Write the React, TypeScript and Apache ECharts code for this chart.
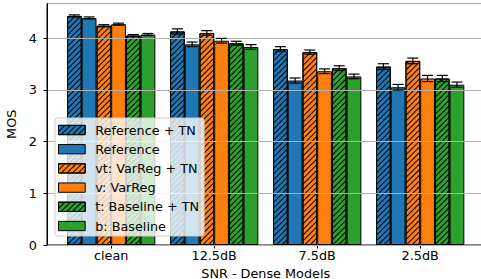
import React, { useEffect, useRef } from "react";
import * as echarts from "echarts";

const categories = ["clean", "12.5dB", "7.5dB", "2.5dB"];
const seriesNames = [
  "Reference + TN",
  "Reference",
  "vt: VarReg + TN",
  "v: VarReg",
  "t: Baseline + TN",
  "b: Baseline",
];
const refTN = [4.43, 4.13, 3.79, 3.45];
const ref = [4.39, 3.88, 3.18, 3.05];
const varRegTN = [4.24, 4.1, 3.73, 3.56];
const varReg = [4.27, 3.95, 3.36, 3.22];
const baseTN = [4.05, 3.9, 3.42, 3.22];
const base = [4.07, 3.83, 3.26, 3.1];
const refTNErr = [0.02, 0.05, 0.045, 0.055];
const refErr = [0.02, 0.045, 0.05, 0.055];
const varRegTNErr = [0.02, 0.045, 0.04, 0.055];
const varRegErr = [0.02, 0.045, 0.045, 0.06];
const baseTNErr = [0.02, 0.04, 0.045, 0.06];
const baseErr = [0.02, 0.045, 0.045, 0.05];
const yTicks = [0, 1, 2, 3, 4];

const values = [refTN, ref, varRegTN, varReg, baseTN, base];
const errors = [refTNErr, refErr, varRegTNErr, varRegErr, baseTNErr, baseErr];
const colors = ["#1f77b4", "#1f77b4", "#ff7f0e", "#ff7f0e", "#2ca02c", "#2ca02c"];
const hatched = [true, false, true, false, true, false];

const FONT = "DejaVu Sans";
const FS = 12.8;
const BAND = 103;
const BAR_W = BAND / 7;
const Y_MAX = 4.67;

export default function App() {
  const ref0 = useRef<HTMLDivElement>(null);
  useEffect(() => {
    if (!ref0.current) return;
    const chart = echarts.init(ref0.current, undefined, { renderer: "svg" });
    const decal = {
      symbol: "rect",
      symbolSize: 1,
      color: "#000",
      dashArrayX: [1, 0],
      dashArrayY: [1, 3],
      rotation: -Math.PI / 4,
    };
    const barSeries = seriesNames.map((name, i) => ({
      name,
      type: "bar",
      xAxisIndex: 1,
      yAxisIndex: 1,
      barWidth: BAR_W,
      barGap: "0%",
      z: 2,
      data: values[i],
      itemStyle: {
        color: colors[i],
        borderColor: "#000",
        borderWidth: 1,
        decal: hatched[i] ? decal : "none",
      },
      emphasis: { disabled: true },
    }));
    const errData: number[][] = [];
    values.forEach((arr, si) =>
      arr.forEach((v, ci) => errData.push([ci, v, errors[si][ci], si]))
    );
    const line = (x1: number, y1: number, x2: number, y2: number) => ({
      type: "line",
      shape: { x1, y1, x2, y2 },
      style: { stroke: "#000", lineWidth: 1.2 },
    });
    chart.setOption({
      animation: false,
      grid: [
        {
          left: 47,
          top: 3.5,
          width: 437,
          height: 241.5,
          show: true,
          borderColor: "#000",
          borderWidth: 1,
          backgroundColor: "transparent",
          outerBoundsMode: "none",
        },
        {
          left: 111.2 - BAND / 2,
          top: 3.5,
          width: BAND * 4,
          height: 241.5,
          outerBoundsMode: "none",
        },
      ],
      xAxis: [
        { type: "value", gridIndex: 0, min: 0, max: 1, show: false },
        {
          type: "category",
          gridIndex: 1,
          data: categories,
          axisLine: { show: false },
          axisTick: {
            show: true,
            alignWithLabel: true,
            length: 3.5,
            lineStyle: { color: "#000", width: 1 },
          },
          axisLabel: { fontFamily: FONT, fontSize: FS, color: "#000", margin: 4 },
          name: "SNR - Dense Models",
          nameLocation: "middle",
          nameGap: 19,
          nameTextStyle: { fontFamily: FONT, fontSize: FS, color: "#000", lineHeight: 12 },
          splitLine: { show: false },
        },
      ],
      yAxis: [
        {
          type: "value",
          gridIndex: 0,
          min: 0,
          max: Y_MAX,
          interval: 1,
          z: 3,
          axisLine: { show: true, lineStyle: { color: "#000", width: 1 } },
          axisTick: { show: true, length: 3.5, lineStyle: { color: "#000", width: 1 } },
          axisLabel: {
            fontFamily: FONT,
            fontSize: FS,
            color: "#000",
            margin: 10,
            showMaxLabel: false,
            formatter: (v: number) => (yTicks.includes(v) ? String(v) : ""),
          },
          splitLine: { show: true, lineStyle: { color: "#b0b0b0", width: 1 } },
          name: "MOS",
          nameLocation: "middle",
          nameGap: 23,
          nameTextStyle: { fontFamily: FONT, fontSize: FS, color: "#000" },
        },
        { type: "value", gridIndex: 1, min: 0, max: Y_MAX, show: false },
      ],
      legend: {
        data: seriesNames,
        orient: "vertical",
        left: 55,
        top: 118,
        icon: "rect",
        itemWidth: 26.7,
        itemHeight: 9.3,
        itemGap: 5.2,
        padding: [5, 5, 3, 3],
        backgroundColor: "rgba(255,255,255,0.8)",
        borderColor: "#cccccc",
        borderWidth: 1,
        borderRadius: 3,
        z: 6,
        textStyle: { fontFamily: FONT, fontSize: FS, color: "#000", lineHeight: 14, padding: [0, 0, 0, 5] },
        itemStyle: { borderColor: "#000", borderWidth: 1 },
        selectedMode: false,
      },
      series: [
        ...barSeries,
        {
          type: "custom",
          name: "err",
          xAxisIndex: 1,
          yAxisIndex: 1,
          z: 4,
          clip: false,
          encode: { x: 0, y: 1 },
          data: errData,
          renderItem: (_p: any, api: any) => {
            const cat = api.value(0);
            const val = api.value(1);
            const err = api.value(2);
            const si = api.value(3);
            const top = api.coord([cat, val + err]);
            const bot = api.coord([cat, val - err]);
            const x = top[0] + (si - 2.5) * BAR_W;
            const cap = 5.5;
            return {
              type: "group",
              children: [
                line(x, top[1], x, bot[1]),
                line(x - cap, top[1], x + cap, top[1]),
                line(x - cap, bot[1], x + cap, bot[1]),
              ],
            };
          },
        },
      ],
    });
    return () => chart.dispose();
  }, []);
  return (
    <div style={{ position: "fixed", left: 0, top: 0, width: 481, height: 279, background: "#fff" }}>
      <div ref={ref0} style={{ width: 481, height: 279 }} />
    </div>
  );
}
